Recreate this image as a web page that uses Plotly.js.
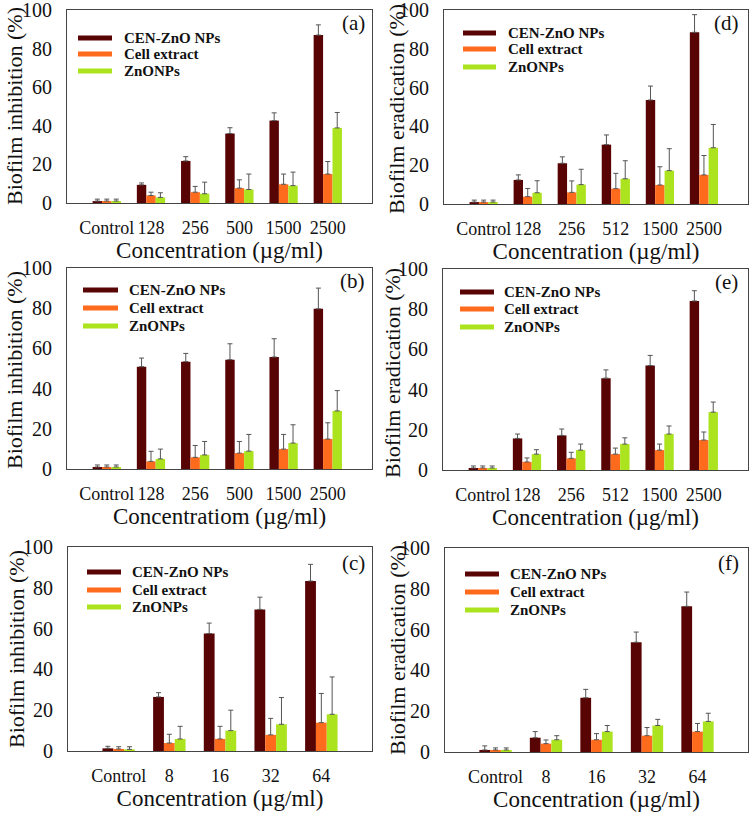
<!DOCTYPE html>
<html><head><meta charset="utf-8">
<script src="https://cdn.plot.ly/plotly-3.0.1.min.js"></script>
<style>html,body{margin:0;padding:0;background:#fff}#chart{width:752px;height:813px}</style>
</head><body><div id="chart"></div>
<script>
// ---------- data ----------
const seriesNames = ['CEN-ZnO NPs', 'Cell extract', 'ZnONPs'];
const catsAB = ['Control', '128', '256', '500', '1500', '2500'];
const catsDE = ['Control', '128', '256', '512', '1500', '2500'];
const catsCF = ['Control', '8', '16', '32', '64'];

// (a) biofilm inhibition
const aCen = [1, 9.4, 21.8, 36, 42.7, 87];
const aCenErr = [1, 1, 2.2, 3, 4, 5.3];
const aCell = [1, 3.9, 5.6, 7.7, 9.7, 15];
const aCellErr = [1, 1.7, 3, 4.3, 5.3, 6.5];
const aZno = [1, 2.9, 4.8, 7, 9, 38.9];
const aZnoErr = [1, 2.4, 6, 8, 7, 8];
// (b) biofilm inhibition
const bCen = [1, 50.9, 53.4, 54.4, 55.7, 79.7];
const bCenErr = [1, 4.3, 4.1, 7.9, 9.1, 10.3];
const bCell = [1, 3.8, 5.8, 7.9, 9.9, 14.9];
const bCellErr = [1, 5, 5.9, 5.8, 7.3, 8.1];
const bZno = [1, 5, 7, 8.9, 12.9, 28.9];
const bZnoErr = [1, 4.9, 6.7, 8.3, 9.1, 10.1];
// (c) biofilm inhibition
const cCen = [1.3, 26.5, 57.6, 69.4, 83.3];
const cCenErr = [1, 2.1, 5.1, 6, 8.2];
const cCell = [1, 3.9, 5.9, 7.9, 13.9];
const cCellErr = [1.1, 4.3, 6.2, 8.1, 14.3];
const cZno = [0.8, 5.9, 10, 13.1, 18];
const cZnoErr = [1.3, 6.2, 10, 13.1, 18.3];
// (d) biofilm eradication
const dCen = [1, 12.4, 21, 30.6, 53.6, 88.5];
const dCenErr = [1, 2.6, 3.3, 5, 7.2, 9.1];
const dCell = [1, 3.8, 6, 7.9, 9.8, 15];
const dCellErr = [1, 4.2, 5.9, 7.9, 9.4, 10];
const dZno = [1, 5.8, 10, 13, 17.2, 29];
const dZnoErr = [1, 6.2, 7.9, 9.3, 11.3, 12];
// (e) biofilm eradication
const eCen = [1, 15.7, 17.2, 45.7, 52, 84.1];
const eCenErr = [1, 2.2, 3.2, 4.1, 5, 5.1];
const eCell = [1, 4, 5.8, 7.9, 9.9, 14.9];
const eCellErr = [1, 2, 3, 3, 3, 4];
const eZno = [1, 7.9, 9.9, 12.9, 17.9, 28.8];
const eZnoErr = [1, 2.2, 3, 3.1, 4, 5];
// (f) biofilm eradication
const fCen = [1, 7, 26.6, 53.8, 71.4];
const fCenErr = [2, 3, 4.1, 5, 7];
const fCell = [1, 4.1, 6, 8, 10];
const fCellErr = [1, 1.8, 3, 4, 4];
const fZno = [1, 6, 10, 13, 15];
const fZnoErr = [1, 2, 3, 3, 4];

// ---------- layout ----------
const W = 752, H = 813;
const FONT = '"Liberation Serif", "Times New Roman", serif';
const colors = ['#580404', '#ff6b1c', '#acE31f'];
const px = x => x / W;
const py = y => 1 - y / H;

const panels = [
  {lab: '(a)', cats: catsAB, vals: [aCen, aCell, aZno], errs: [aCenErr, aCellErr, aZnoErr],
   fr: [67, 372, 10, 203], xr: [-0.9, 6], yt: 'Biofilm inhibition (%)', xt: 'Concentration (µg/ml)',
   ytPos: [14, 106], leg: [78, 112, 122, [38, 54, 71]], labPos: [367, 23]},
  {lab: '(d)', cats: catsDE, vals: [dCen, dCell, dZno], errs: [dCenErr, dCellErr, dZnoErr],
   fr: [444, 748, 10, 204], xr: [-0.9, 6], yt: 'Biofilm eradication (%)', xt: 'Concentration (µg/ml)',
   ytPos: [397, 109], leg: [463, 496, 506, [33, 49, 67]], labPos: [741, 23]},
  {lab: '(b)', cats: catsAB, vals: [bCen, bCell, bZno], errs: [bCenErr, bCellErr, bZnoErr],
   fr: [67, 372, 268, 469], xr: [-0.9, 6], yt: 'Biofilm inhibition (%)', xt: 'Concentratiom (µg/ml)',
   ytPos: [14, 370], leg: [83, 118, 127, [290, 308, 326]], labPos: [367, 281]},
  {lab: '(e)', cats: catsDE, vals: [eCen, eCell, eZno], errs: [eCenErr, eCellErr, eZnoErr],
   fr: [443, 748, 269, 470], xr: [-0.9, 6], yt: 'Biofilm eradication (%)', xt: 'Concentration (µg/ml)',
   ytPos: [392, 373], leg: [460, 494, 502, [292, 309, 327]], labPos: [740, 282]},
  {lab: '(c)', cats: catsCF, vals: [cCen, cCell, cZno], errs: [cCenErr, cCellErr, cZnoErr],
   fr: [68, 372, 547, 751], xr: [-1, 5], yt: 'Biofilm inhibition (%)', xt: 'Concentration (µg/ml)',
   ytPos: [16, 649], leg: [87, 121, 130, [572, 590, 607]], labPos: [367, 563]},
  {lab: '(f)', cats: catsCF, vals: [fCen, fCell, fZno], errs: [fCenErr, fCellErr, fZnoErr],
   fr: [445, 748, 548, 752], xr: [-1, 5], yt: 'Biofilm eradication (%)', xt: 'Concentration (µg/ml)',
   ytPos: [397, 650], leg: [465, 499, 508, [574, 592, 610]], labPos: [741, 563]}
];

const data = [];
const layout = {
  width: W, height: H, margin: {l: 0, r: 0, t: 0, b: 0},
  paper_bgcolor: '#fff', plot_bgcolor: '#fff',
  barmode: 'group', bargap: 0.36, bargroupgap: 0,
  showlegend: false, font: {family: FONT, color: '#111'},
  shapes: [], annotations: []
};

panels.forEach((p, i) => {
  const n = i === 0 ? '' : String(i + 1);
  p.vals.forEach((v, k) => {
    data.push({
      type: 'bar', name: seriesNames[k], x: p.cats, y: v,
      xaxis: 'x' + n, yaxis: 'y' + n, offsetgroup: String(k),
      marker: {color: colors[k], line: {width: 0}},
      error_y: {type: 'data', array: p.errs[k], symmetric: false, arrayminus: p.errs[k].map(() => 0),
                color: '#555', thickness: 1, width: 2.5},
      hoverinfo: 'x+y+name'
    });
  });
  const [l, r, t, b] = p.fr;
  layout['xaxis' + n] = {
    domain: [px(l), px(r)], anchor: 'y' + n, type: 'category', range: p.xr,
    showline: true, mirror: true, linecolor: '#444', linewidth: 1,
    ticks: '', showgrid: false, zeroline: false, fixedrange: true,
    tickfont: {family: FONT, size: 18, color: '#111'}, ticklabelstandoff: 8,
    title: {text: p.xt, font: {family: FONT, size: 23, color: '#111'}, standoff: 4}
  };
  layout['yaxis' + n] = {
    domain: [py(b), py(t)], anchor: 'x' + n, range: [0, 100], dtick: 20,
    showline: true, mirror: true, linecolor: '#444', linewidth: 1,
    ticks: '', showgrid: false, zeroline: false, fixedrange: true,
    tickfont: {family: FONT, size: 20, color: '#111'}, ticklabelstandoff: 10,
    ticklabeloverflow: 'allow'
  };
  // y-axis title placed exactly
  layout.annotations.push({xref: 'paper', yref: 'paper', x: px(p.ytPos[0]), y: py(p.ytPos[1]),
    xanchor: 'center', yanchor: 'middle', showarrow: false, textangle: -90, text: p.yt,
    font: {family: FONT, size: 22, color: '#111'}});
  // legend (drawn as swatches + labels)
  const [x0, x1, tx, rows] = p.leg;
  rows.forEach((ry, k) => {
    layout.shapes.push({type: 'line', xref: 'paper', yref: 'paper',
      x0: px(x0), x1: px(x1), y0: py(ry), y1: py(ry),
      line: {color: colors[k], width: 5}});
    layout.annotations.push({xref: 'paper', yref: 'paper', x: px(tx), y: py(ry),
      xanchor: 'left', yanchor: 'middle', showarrow: false,
      text: '<b>' + seriesNames[k] + '</b>', font: {family: FONT, size: 15, color: '#111'}});
  });
  layout.annotations.push({xref: 'paper', yref: 'paper', x: px(p.labPos[0]), y: py(p.labPos[1]),
    xanchor: 'right', yanchor: 'middle', showarrow: false, text: p.lab,
    font: {family: FONT, size: 21, color: '#111'}});
});

Plotly.newPlot('chart', data, layout, {displayModeBar: false, staticPlot: true});
</script></body></html>
